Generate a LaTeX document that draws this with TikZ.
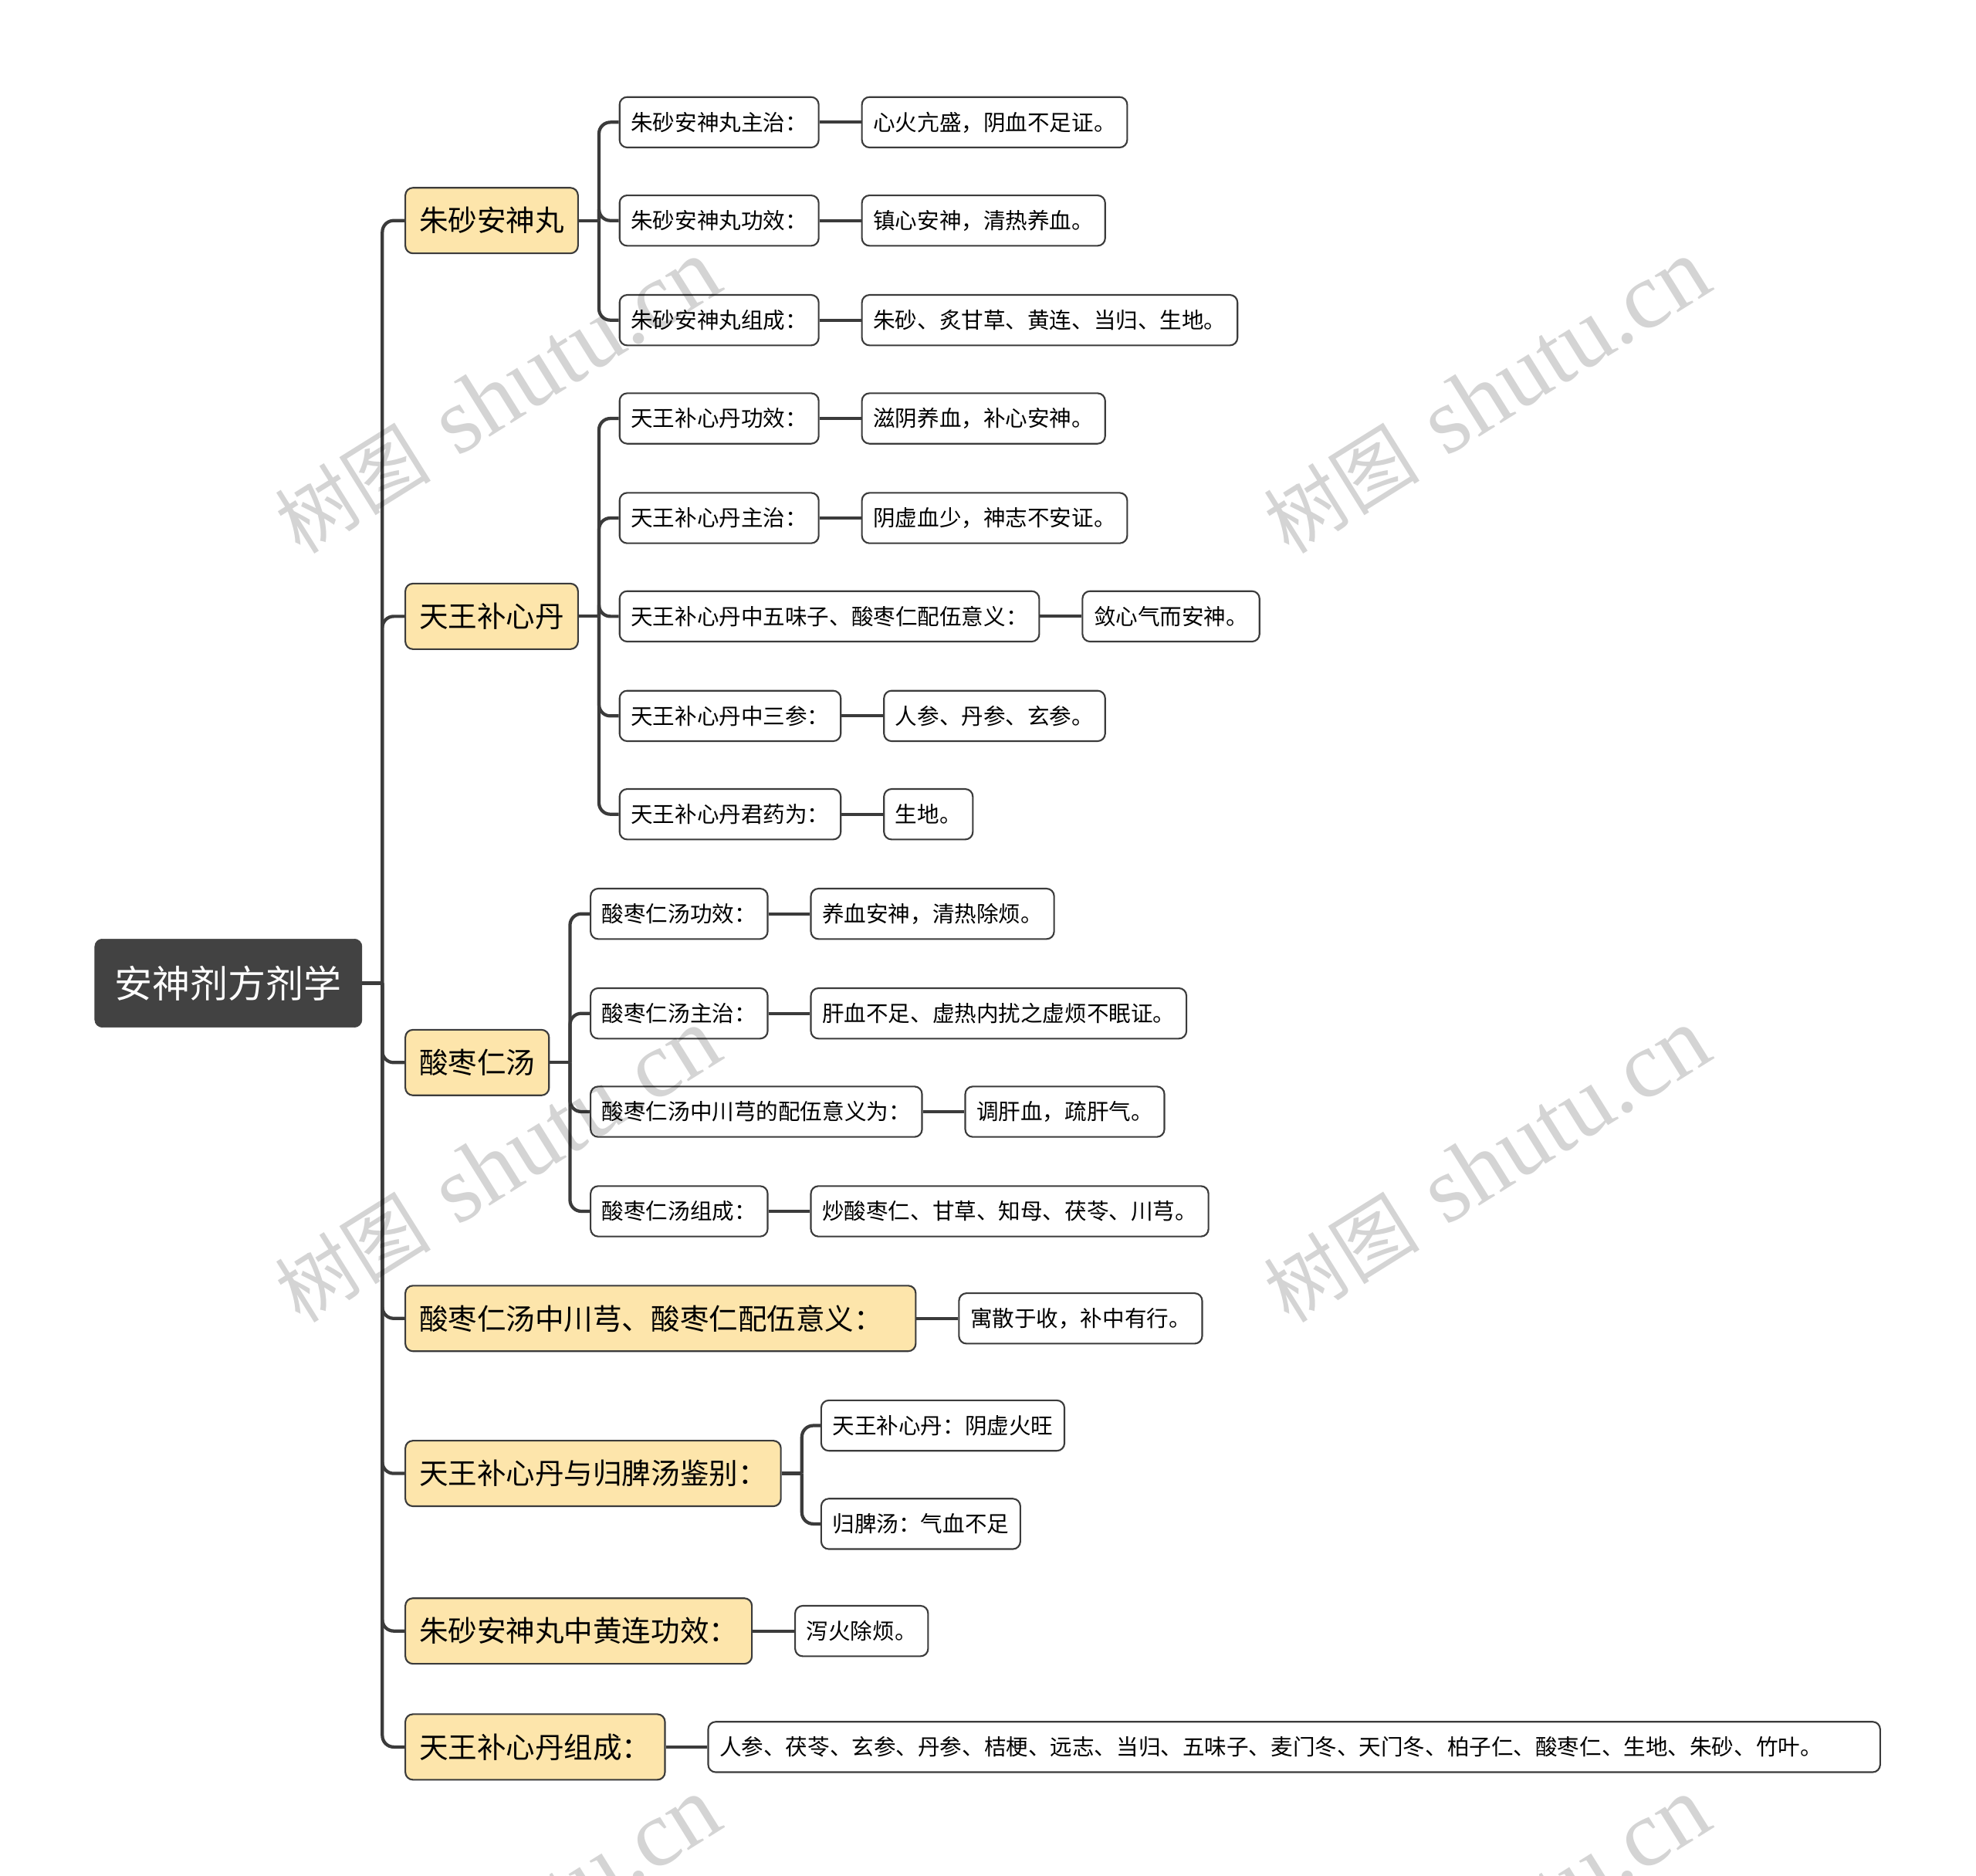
\documentclass[tikz,border=0pt]{standalone}
\usepackage{fontspec}
\usetikzlibrary{positioning}
\newfontfamily\cjk{Noto Sans CJK SC}
\newfontfamily\wmlatin{Liberation Serif}
\definecolor{inkgrey}{HTML}{3b3b3b}
\definecolor{rootgrey}{HTML}{424242}
\definecolor{paleyellow}{HTML}{FDE5AB}
\tikzset{
  rootbox/.style={fill=rootgrey, draw=rootgrey, rounded corners=6pt, text=white,
    inner xsep=16pt, minimum height=70pt, anchor=west,
    font=\cjk\fontsize{30pt}{36pt}\selectfont},
  topicbox/.style={fill=paleyellow, draw=inkgrey, line width=1.3pt, rounded corners=6pt,
    inner xsep=11pt, minimum height=52pt, anchor=west,
    font=\cjk\fontsize{23pt}{28pt}\selectfont},
  itembox/.style={fill=white, draw=inkgrey, line width=1.3pt, rounded corners=6pt,
    inner xsep=9pt, minimum height=40pt, anchor=west,
    font=\cjk\fontsize{17.5pt}{21pt}\selectfont},
  link/.style={draw=inkgrey, line width=2.6pt, rounded corners=9pt},
  shutuwm/.style={text=black, opacity=0.17, rotate=32, inner sep=0pt,
    font=\fontsize{75pt}{80pt}\selectfont}
}

\begin{document}
\begin{tikzpicture}[x=1pt, y=-1pt]
  \fill[white] (0,0) rectangle (1568,1488);
  \useasboundingbox (0,0) rectangle (1568,1488);

  % root and main topics
  \node[rootbox] (root) at (75,780) {安神剂方剂学};
  \node[topicbox] (zs) at (321,175) {朱砂安神丸};
  \node[topicbox] (tw) at (321,489) {天王补心丹};
  \node[topicbox] (sz) at (321,843) {酸枣仁汤};
  \node[topicbox, text width=383, align=left] (t4) at (321,1046) {酸枣仁汤中川芎、酸枣仁配伍意义：};
  \node[topicbox] (t5) at (321,1169) {天王补心丹与归脾汤鉴别：};
  \node[topicbox] (t6) at (321,1294) {朱砂安神丸中黄连功效：};
  \node[topicbox] (t7) at (321,1386) {天王补心丹组成：};

  % 朱砂安神丸
  \node[itembox] (zs1) at (491,97) {朱砂安神丸主治：};
  \node[itembox] (zs2) at (491,175) {朱砂安神丸功效：};
  \node[itembox] (zs3) at (491,254) {朱砂安神丸组成：};
  \node[itembox, right=33 of zs1] (zs1a) {心火亢盛，阴血不足证。};
  \node[itembox, right=33 of zs2] (zs2a) {镇心安神，清热养血。};
  \node[itembox, right=33 of zs3] (zs3a) {朱砂、炙甘草、黄连、当归、生地。};

  % 天王补心丹
  \node[itembox] (tw1) at (491,332) {天王补心丹功效：};
  \node[itembox] (tw2) at (491,411) {天王补心丹主治：};
  \node[itembox] (tw3) at (491,489) {天王补心丹中五味子、酸枣仁配伍意义：};
  \node[itembox] (tw4) at (491,568) {天王补心丹中三参：};
  \node[itembox] (tw5) at (491,646) {天王补心丹君药为：};
  \node[itembox, right=33 of tw1] (tw1a) {滋阴养血，补心安神。};
  \node[itembox, right=33 of tw2] (tw2a) {阴虚血少，神志不安证。};
  \node[itembox, right=33 of tw3] (tw3a) {敛心气而安神。};
  \node[itembox, right=33 of tw4] (tw4a) {人参、丹参、玄参。};
  \node[itembox, right=33 of tw5] (tw5a) {生地。};

  % 酸枣仁汤
  \node[itembox] (sz1) at (468,725) {酸枣仁汤功效：};
  \node[itembox] (sz2) at (468,804) {酸枣仁汤主治：};
  \node[itembox] (sz3) at (468,882) {酸枣仁汤中川芎的配伍意义为：};
  \node[itembox] (sz4) at (468,961) {酸枣仁汤组成：};
  \node[itembox, right=33 of sz1] (sz1a) {养血安神，清热除烦。};
  \node[itembox, right=33 of sz2] (sz2a) {肝血不足、虚热内扰之虚烦不眠证。};
  \node[itembox, right=33 of sz3] (sz3a) {调肝血，疏肝气。};
  \node[itembox, right=33 of sz4] (sz4a) {炒酸枣仁、甘草、知母、茯苓、川芎。};

  % other topics
  \node[itembox, right=33 of t4] (t4a) {寓散于收，补中有行。};
  \node[itembox] (jb1) at (651,1131) {天王补心丹：阴虚火旺};
  \node[itembox] (jb2) at (651,1209) {归脾汤：气血不足};
  \node[itembox, right=33 of t6] (t6a) {泻火除烦。};
  \node[itembox, right=33 of t7, text width=912, align=left] (t7a) {人参、茯苓、玄参、丹参、桔梗、远志、当归、五味子、麦门冬、天门冬、柏子仁、酸枣仁、生地、朱砂、竹叶。};

  % branch connectors
  \foreach \p/\kids in {root/{zs,tw,sz,t4,t5,t6,t7}, zs/{zs1,zs2,zs3},
      tw/{tw1,tw2,tw3,tw4,tw5}, sz/{sz1,sz2,sz3,sz4}, t5/{jb1,jb2}} {
    \path (\p.east) ++(16,0) coordinate (\p-j);
    \draw[link] (\p.east) -- (\p-j);
    \foreach \c in \kids
      \draw[link] (\p-j) |- (\c.west);
  }
  % leaf connectors
  \foreach \a in {zs1,zs2,zs3,tw1,tw2,tw3,tw4,tw5,sz1,sz2,sz3,sz4,t4,t6,t7}
    \draw[link] (\a.east) -- (\a a.west);

  % watermark
  \begin{scope}
    \clip (0,0) rectangle (1568,1488);
    \foreach \wx/\wy in {395/315, 1180/315, 395/925, 1180/925, 395/1535, 1180/1535}
      \node[shutuwm] (wm) at (\wx,\wy) {{\cjk\fontsize{62pt}{70pt}\selectfont 树图} \wmlatin shutu.cn};
  \end{scope}
\end{tikzpicture}
\end{document}
